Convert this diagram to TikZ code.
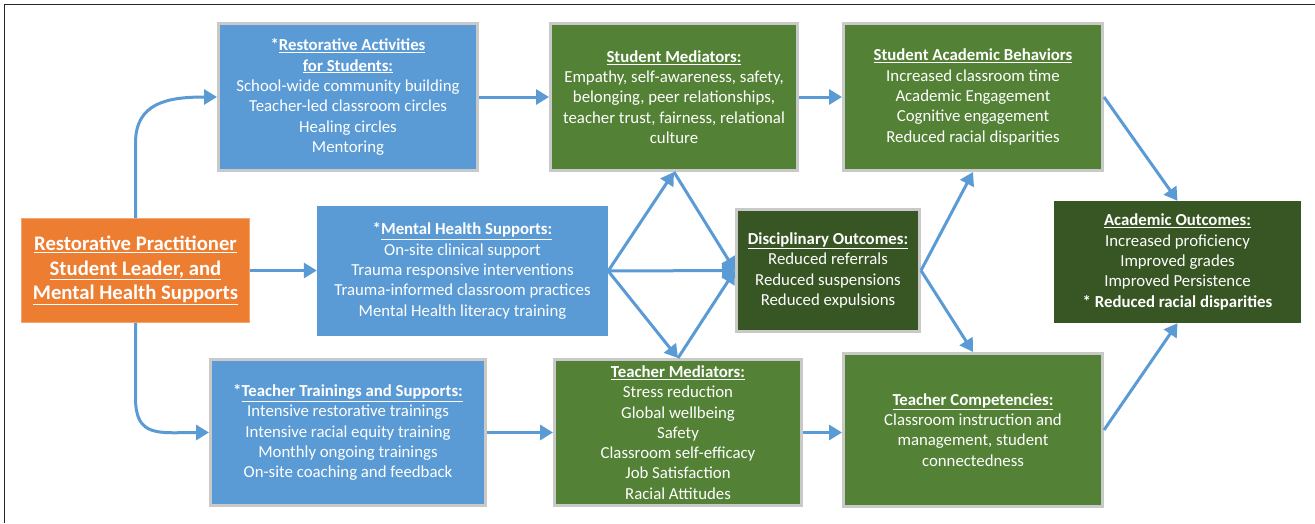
\documentclass[tikz,border=0pt]{standalone}
\usepackage{fontspec}
\setmainfont{Carlito}
\usetikzlibrary{arrows.meta}
\definecolor{cblue}{HTML}{5B9BD5}
\definecolor{cgreen}{HTML}{538135}
\definecolor{cdgreen}{HTML}{375623}
\definecolor{corange}{HTML}{ED7D31}
\definecolor{corangeb}{HTML}{F4A56F}
\definecolor{cgray}{HTML}{C9C9C9}
\definecolor{carrow}{HTML}{5B9BD5}
\begin{document}
\begin{tikzpicture}[x=1pt,y=-1pt,
  box/.style={fill=#1, text=white, align=center, inner sep=0pt, font=\fontsize{16.8}{20.3}\selectfont},
  gbox/.style={box=#1, draw=cgray, line width=3pt},
  arr/.style={draw=carrow, line width=3pt, -{Triangle[length=13pt,width=15pt]}},
  frame/.style={draw=black!85, line width=1.3pt}
]
\useasboundingbox (0,0) rectangle (1315,523);
\fill[white] (0,0) rectangle (1315,523);
\draw[frame] (4.5,523) -- (4.5,4.5) -- (1315,4.5);

\node[box=corange, draw=corangeb, line width=1pt, minimum width=228pt, minimum height=104pt,
  font=\fontsize{20.7}{24.5}\selectfont\bfseries] (rp) at (135.5,270.5)
  {\underline{Restorative Practitioner}\\ \underline{Student Leader, and}\\ \underline{Mental Health Supports}};

\node[gbox=cblue, minimum width=259pt, minimum height=147pt] (ra) at (348,97)
  {\textbf{*\underline{Restorative Activities}}\\ \textbf{\underline{for Students:}}\\ School-wide community building\\ Teacher-led classroom circles\\ Healing circles\\ Mentoring};

\node[box=cblue, minimum width=291pt, minimum height=130pt] (mh) at (462.5,271)
  {\textbf{*\underline{Mental Health Supports:}}\\ On-site clinical support\\ Trauma responsive interventions\\ Trauma-informed classroom practices\\ Mental Health literacy training};

\node[gbox=cblue, minimum width=275pt, minimum height=146pt] (tt) at (348,432.5)
  {\textbf{*\underline{Teacher Trainings and Supports:}}\\ Intensive restorative trainings\\ Intensive racial equity training\\ Monthly ongoing trainings\\ On-site coaching and feedback};

\node[gbox=cgreen, minimum width=247pt, minimum height=147pt] (sm) at (674,97)
  {\textbf{\underline{Student Mediators:}}\\ Empathy, self-awareness, safety,\\ belonging, peer relationships,\\ teacher trust, fairness, relational\\ culture};

\node[gbox=cdgreen, minimum width=183pt, minimum height=122pt] (do) at (828,270.5)
  {\textbf{\underline{Disciplinary Outcomes:}}\\ Reduced referrals\\ Reduced suspensions\\ Reduced expulsions};

\node[gbox=cgreen, minimum width=247pt, minimum height=146pt] (tm) at (678,432.5)
  {\textbf{\underline{Teacher Mediators:}}\\ Stress reduction\\ Global wellbeing\\ Safety\\ Classroom self-efficacy\\ Job Satisfaction\\ Racial Attitudes};

\node[gbox=cgreen, minimum width=259pt, minimum height=147pt] (sab) at (973,97)
  {\textbf{\underline{Student Academic Behaviors}}\\ Increased classroom time\\ Academic Engagement\\ Cognitive engagement\\ Reduced racial disparities};

\node[box=cdgreen, minimum width=247pt, minimum height=122pt] (ao) at (1177.5,262)
  {\textbf{\underline{Academic Outcomes:}}\\ Increased proficiency\\ Improved grades\\ Improved Persistence\\ \textbf{* Reduced racial disparities}};

\node[gbox=cgreen, minimum width=259pt, minimum height=153pt] (tc) at (973,430)
  {\textbf{\underline{Teacher Competencies:}}\\ Classroom instruction and\\ management, student\\ connectedness};

\draw[arr] (rp.north) -- ++(0,-75) .. controls +(0,-40) and +(-50,0) .. (ra.west);
\draw[arr] (rp.south) -- ++(0,75) .. controls +(0,40) and +(-50,0) .. (tt.west);
\draw[arr] (rp.east) -- (rp.east -| mh.west);
\draw[arr] (ra.east) -- (sm.west);
\draw[arr] (tt.east) -- (tm.west);
\draw[arr] (sm.east) -- (sab.west);
\draw[arr] (tm.east) -- (tm.east -| tc.west);
\draw[arr] (mh.east) -- (sm.south);
\draw[arr] (mh.east) -- (do.west);
\draw[arr] (mh.east) -- (tm.north);
\draw[arr] (sm.south) -- (do.west);
\draw[arr] (tm.north) -- (do.west);
\draw[arr] (do.east) -- (sab.south);
\draw[arr] (do.east) -- (tc.north);
\draw[arr] (sab.east) -- (ao.north);
\draw[arr] (tc.east) -- (ao.south);
\end{tikzpicture}
\end{document}
